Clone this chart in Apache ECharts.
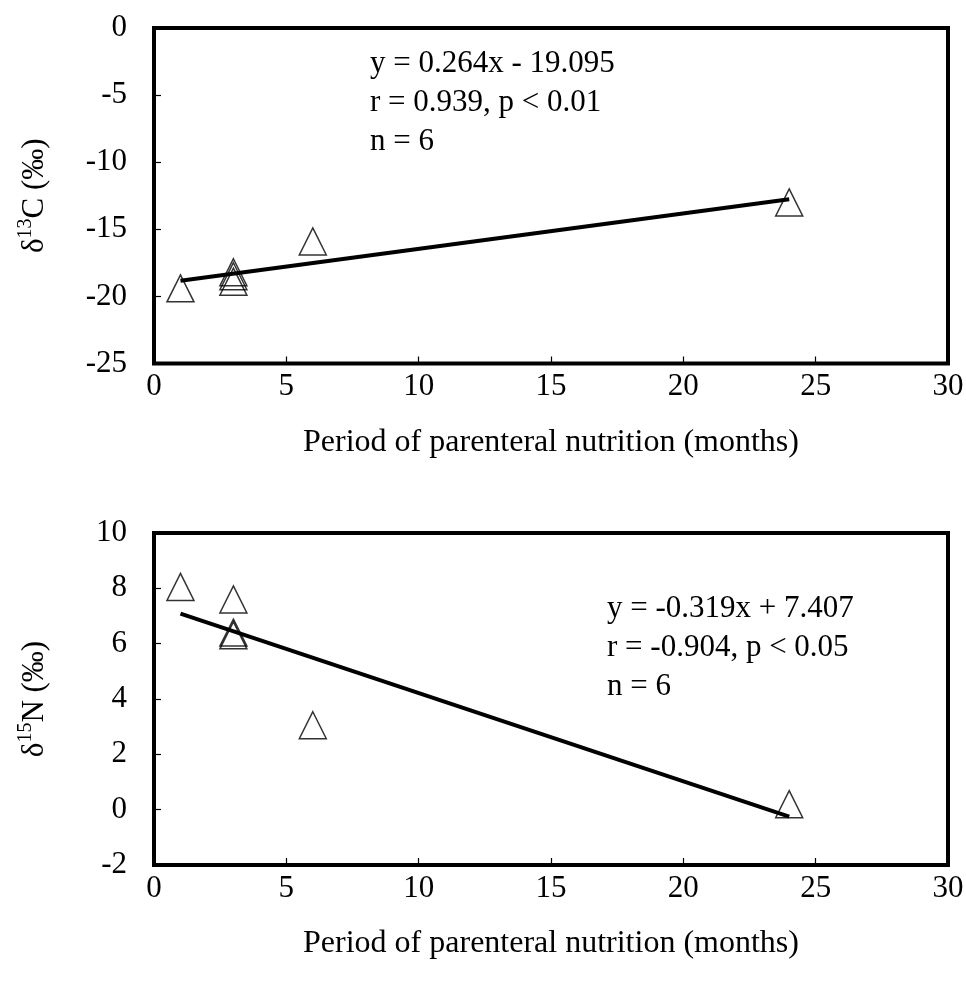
<!DOCTYPE html>
<html>
<head>
<meta charset="utf-8">
<script src="https://cdn.jsdelivr.net/npm/echarts@6/dist/echarts.min.js"></script>
<style>
  html, body { margin: 0; padding: 0; background: #fff; }
  #chart { width: 966px; height: 983px; }
</style>
</head>
<body>
<div id="chart"></div>
<script>
// months of parenteral nutrition
const monthsC = [1, 3, 3, 3, 6, 24];
const delta13C = [-19.4, -18.2, -18.5, -18.9, -15.9, -13.0];
const trendC = [[1, -18.831], [24, -12.759]];

const monthsN = [1, 3, 3, 3, 6, 24];
const delta15N = [8.05, 7.6, 6.4, 6.3, 3.05, 0.2];
const trendN = [[1, 7.088], [24, -0.249]];

const eqC = ['y = 0.264x - 19.095', 'r = 0.939, p < 0.01', 'n = 6'];
const eqN = ['y = -0.319x + 7.407', 'r = -0.904, p < 0.05', 'n = 6'];

const font = 'Liberation Serif';
const fs = 31;

var dom = document.getElementById('chart');
var myChart = echarts.init(dom, null, { renderer: 'canvas' });

function xAxisOf(idx) {
  return {
    type: 'value', gridIndex: idx, min: 0, max: 30, interval: 5,
    name: 'Period of parenteral nutrition (months)',
    nameLocation: 'middle', nameGap: 63,
    nameTextStyle: { fontFamily: font, fontSize: 32, color: '#000' },
    axisLine: { show: false, onZero: false },
    axisTick: { show: true, inside: true, length: 7, lineStyle: { color: '#000', width: 1.2 } },
    axisLabel: { fontFamily: font, fontSize: fs, color: '#000', margin: 8 },
    splitLine: { show: false }
  };
}

function yAxisOf(idx, min, max, interval, sup, el) {
  return {
    type: 'value', gridIndex: idx, min: min, max: max, interval: interval,
    name: '{a|δ}{s|' + sup + '}{a|' + el + ' (‰)}',
    nameLocation: 'middle', nameGap: 104, nameRotate: 90,
    nameTextStyle: {
      color: '#000',
      rich: {
        a: { fontFamily: font, fontSize: fs, color: '#000', lineHeight: 34, verticalAlign: 'bottom' },
        s: { fontFamily: font, fontSize: 20, color: '#000', lineHeight: 34, verticalAlign: 'top' }
      }
    },
    axisLine: { show: false, onZero: false },
    axisTick: { show: true, inside: true, length: 7, lineStyle: { color: '#000', width: 1.2 } },
    axisLabel: { fontFamily: font, fontSize: fs, color: '#000', margin: 27 },
    splitLine: { show: false }
  };
}

function pairs(xs, ys) {
  return xs.map((x, i) => [x, ys[i]]);
}

function eqText(lines, left, top) {
  return lines.map((t, i) => ({
    type: 'text', left: left, top: top + i * 39,
    style: { text: t, font: fs + 'px "' + font + '"', fill: '#000' }
  }));
}

var option = {
  animation: false,
  backgroundColor: '#fff',
  grid: [
    { left: 154, right: 18, top: 28, height: 335.5, outerBoundsMode: 'none', show: true, borderColor: '#000', borderWidth: 4, backgroundColor: 'transparent' },
    { left: 154, right: 18, top: 533, height: 332, outerBoundsMode: 'none', show: true, borderColor: '#000', borderWidth: 4, backgroundColor: 'transparent' }
  ],
  xAxis: [xAxisOf(0), xAxisOf(1)],
  yAxis: [
    yAxisOf(0, -25, 0, 5, '13', 'C'),
    yAxisOf(1, -2, 10, 2, '15', 'N')
  ],
  series: [
    {
      type: 'scatter', xAxisIndex: 0, yAxisIndex: 0,
      data: pairs(monthsC, delta13C),
      symbol: 'triangle', symbolSize: [27, 27],
      itemStyle: { color: 'rgba(0,0,0,0)', borderColor: '#000', borderWidth: 1.5 }
    },
    {
      type: 'line', xAxisIndex: 0, yAxisIndex: 0, data: trendC,
      showSymbol: false, symbol: 'none', z: 5,
      lineStyle: { color: '#000', width: 4 }
    },
    {
      type: 'scatter', xAxisIndex: 1, yAxisIndex: 1,
      data: pairs(monthsN, delta15N),
      symbol: 'triangle', symbolSize: [27, 27],
      itemStyle: { color: 'rgba(0,0,0,0)', borderColor: '#000', borderWidth: 1.5 }
    },
    {
      type: 'line', xAxisIndex: 1, yAxisIndex: 1, data: trendN,
      showSymbol: false, symbol: 'none', z: 5,
      lineStyle: { color: '#000', width: 4 }
    }
  ],
  graphic: eqText(eqC, 370, 48).concat(eqText(eqN, 607, 593))
};

myChart.setOption(option);
window.addEventListener('resize', myChart.resize);
</script>
</body>
</html>
